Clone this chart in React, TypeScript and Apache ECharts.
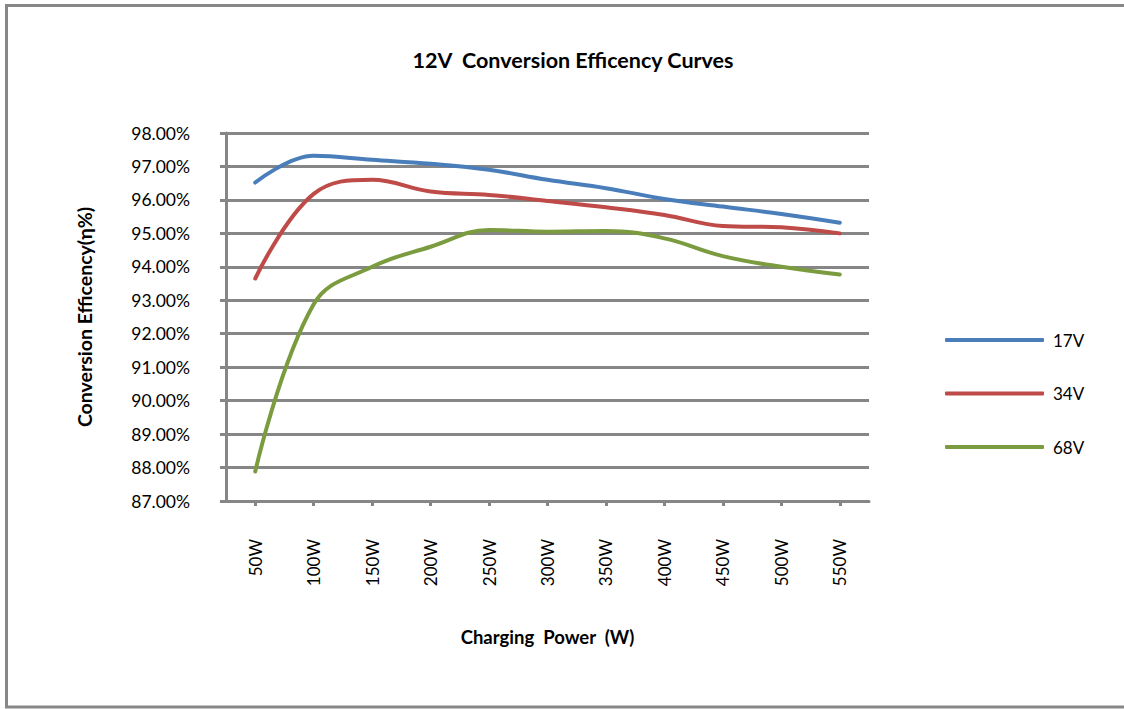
import React, { useEffect, useRef } from "react";
import * as echarts from "echarts";

const categories = ["50W", "100W", "150W", "200W", "250W", "300W", "350W", "400W", "450W", "500W", "550W"];
const seriesNames = ["17V", "34V", "68V"];
const values17V = [96.52, 97.32, 97.2, 97.08, 96.9, 96.6, 96.35, 96.03, 95.8, 95.58, 95.32];
const values34V = [93.65, 96.18, 96.6, 96.25, 96.15, 95.97, 95.78, 95.55, 95.22, 95.18, 95.0];
const values68V = [87.88, 92.88, 94.0, 94.6, 95.1, 95.05, 95.07, 94.85, 94.32, 94.0, 93.77];
const colors = ["#4A7EBB", "#BE4B48", "#7B9B3F"];

const FONT = "Lato, 'Noto Sans', sans-serif";

export default function App() {
  const ref = useRef<HTMLDivElement>(null);
  useEffect(() => {
    document.body.style.margin = "0";
    const chart = echarts.init(ref.current!, null, { renderer: "svg" });
    const gridColor = "#868686";
    const mk = (name: string, data: number[], color: string) => ({
      name,
      type: "line",
      data,
      smooth: 0.4,
      symbol: "none",
      lineStyle: { color, width: 4, cap: "round" },
      itemStyle: { color },
    });
    chart.setOption({
      animation: false,
      backgroundColor: "#ffffff",
      textStyle: { fontFamily: FONT },
      title: {
        text: "12V  Conversion Efficency Curves",
        left: 568,
        top: 44,
        textAlign: "center",
        textStyle: { fontFamily: FONT, fontWeight: "bold", fontSize: 21.5, color: "#000" },
      },
      legend: {
        orient: "vertical",
        left: 940,
        top: 325,
        icon: "roundRect",
        itemWidth: 99,
        itemHeight: 4,
        itemGap: 33.5,
        textStyle: { fontFamily: FONT, fontSize: 17, color: "#000", lineHeight: 20, padding: [0, 0, 0, 4] },
        data: seriesNames,
      },
      grid: { left: 226, right: 255, top: 133, bottom: 208, containLabel: false },
      xAxis: {
        type: "category",
        data: categories,
        boundaryGap: true,
        name: "Charging  Power  (W)",
        nameLocation: "middle",
        nameGap: 126,
        nameTextStyle: { fontFamily: FONT, fontWeight: "bold", fontSize: 18.5, color: "#000" },
        axisLine: { lineStyle: { color: gridColor, width: 3 } },
        axisTick: { show: true, alignWithLabel: true, length: 5, lineStyle: { color: gridColor, width: 3 } },
        axisLabel: { rotate: 90, margin: 38, fontFamily: FONT, fontSize: 17, color: "#000" },
        splitLine: { show: false },
      },
      yAxis: {
        type: "value",
        min: 87,
        max: 98,
        interval: 1,
        name: "Conversion Efficency(η%)",
        nameLocation: "middle",
        nameGap: 132,
        nameTextStyle: { fontFamily: FONT, fontWeight: "bold", fontSize: 19.5, color: "#000" },
        axisLine: { show: true, lineStyle: { color: gridColor, width: 3 } },
        axisTick: { show: true, length: 6, lineStyle: { color: gridColor, width: 3 } },
        axisLabel: {
          margin: 36,
          fontFamily: FONT,
          fontSize: 17.5,
          color: "#000",
          formatter: (v: number) => v.toFixed(2) + "%",
        },
        splitLine: { show: true, lineStyle: { color: gridColor, width: 3 } },
      },
      graphic: [
        {
          type: "rect",
          shape: { x: 6.5, y: 5.5, width: 1140, height: 701.5 },
          style: { fill: "none", stroke: "#878787", lineWidth: 3 },
          silent: true,
          z: 100,
        },
      ],
      series: [
        mk(seriesNames[0], values17V, colors[0]),
        mk(seriesNames[1], values34V, colors[1]),
        mk(seriesNames[2], values68V, colors[2]),
      ],
    });
    return () => chart.dispose();
  }, []);
  return <div ref={ref} style={{ position: "absolute", left: 0, top: 0, width: 1124, height: 709 }} />;
}
